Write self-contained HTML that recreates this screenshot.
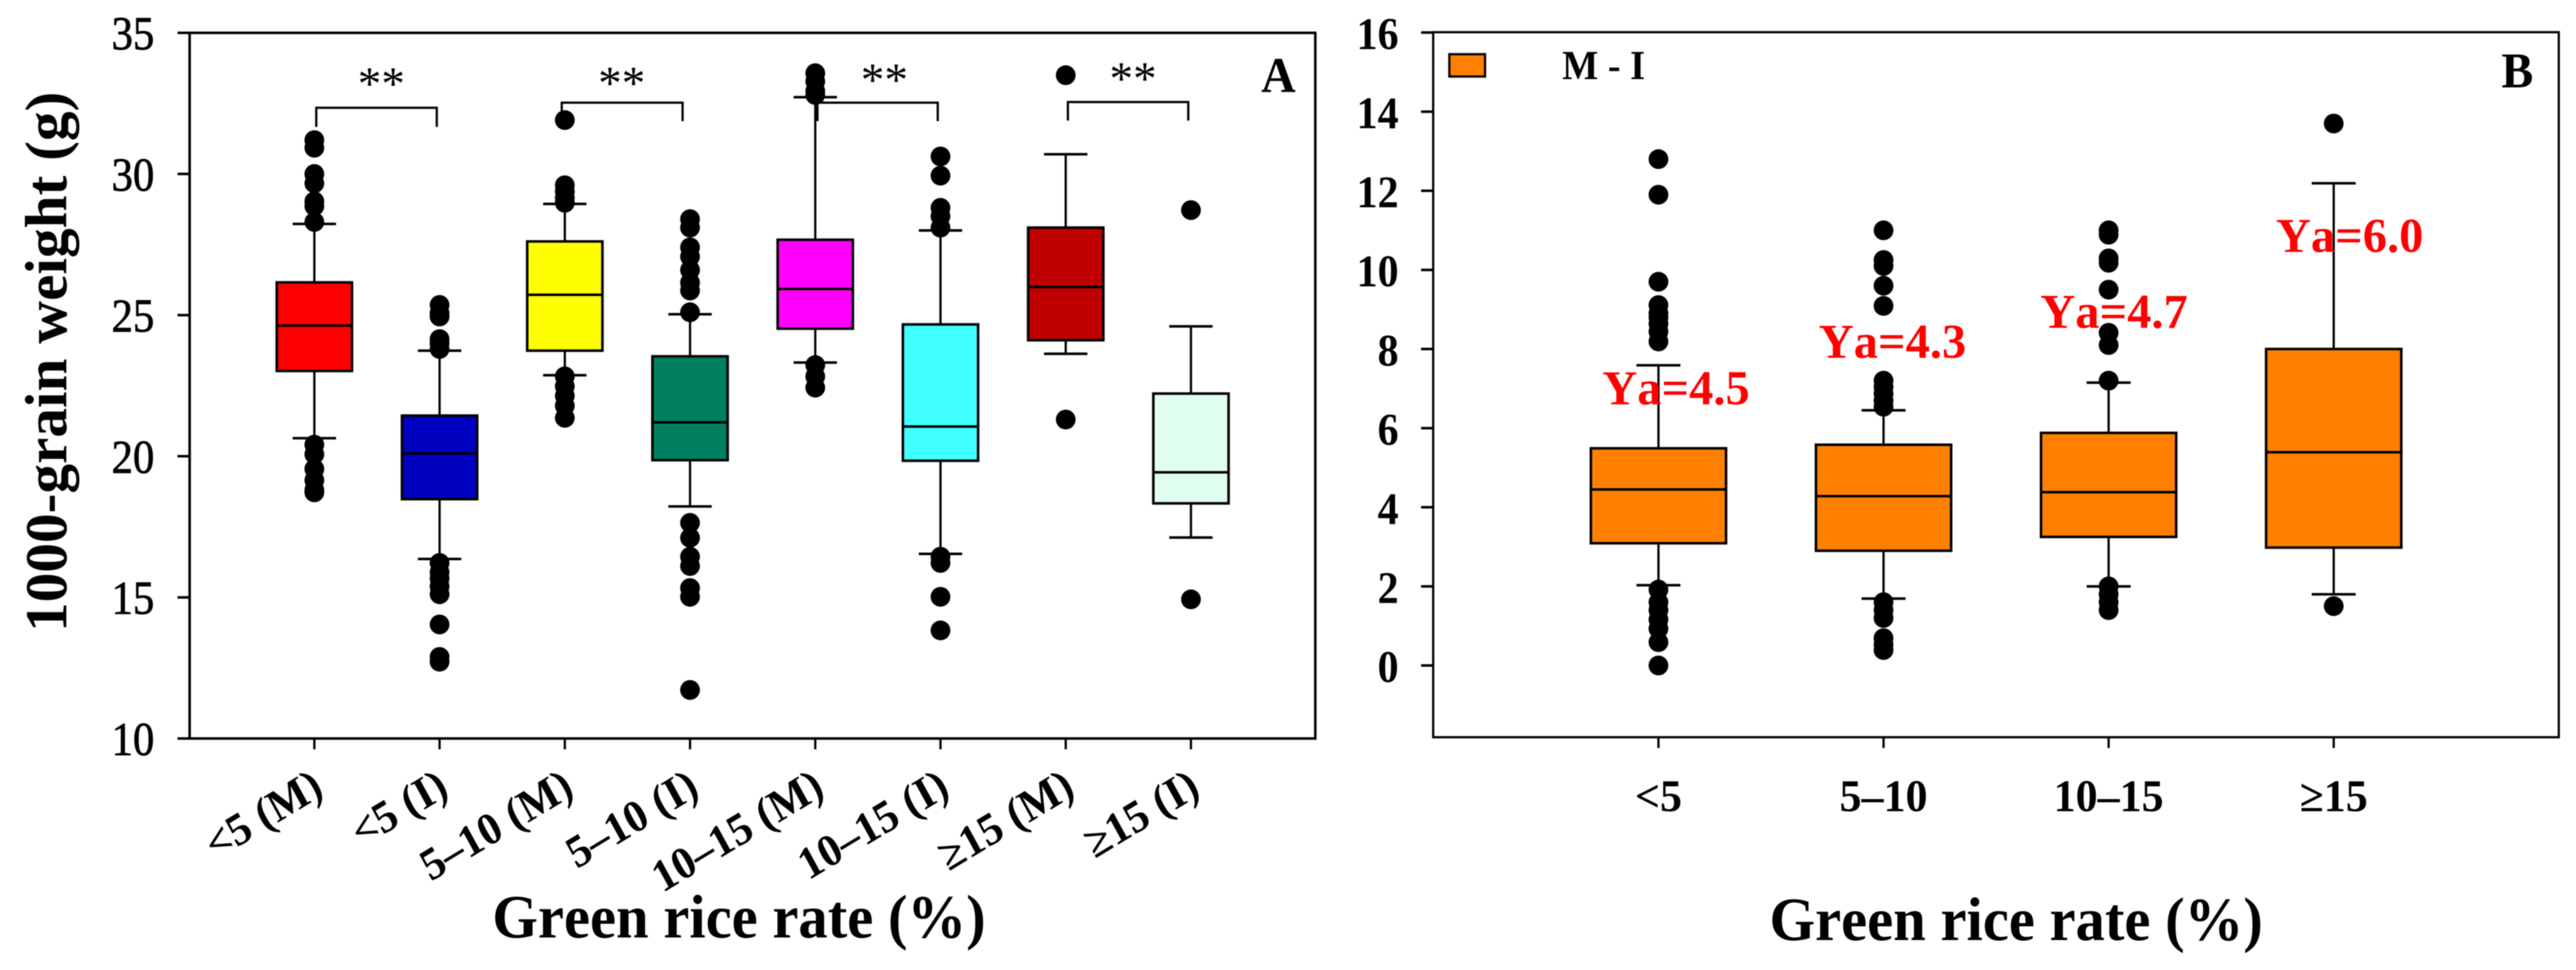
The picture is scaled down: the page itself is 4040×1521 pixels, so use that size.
<!DOCTYPE html>
<html lang="en">
<head>
<meta charset="utf-8">
<title>1000-grain weight and M - I difference by green rice rate</title>
<style>
html,body{margin:0;padding:0;background:#fff;}
svg{display:block;filter:blur(0.7px);}
text{font-family:"Liberation Serif","DejaVu Serif",serif;font-weight:bold;fill:#000;font-kerning:none;}
.ya{fill:#f00;font-size:76px;text-anchor:middle;}
.stars{font-size:74px;font-weight:normal;text-anchor:middle;}
.bracket{fill:none;stroke:#000;stroke-width:3.5;}
</style>
</head>
<body>
<svg id="fig" xmlns="http://www.w3.org/2000/svg" width="4040" height="1521" viewBox="0 0 4040 1521">
  <rect x="0" y="0" width="4040" height="1521" fill="#fff"/>
  <g id="panelA"></g>
  <g id="panelB"></g>

  <text transform="translate(104,991) rotate(-90)" font-size="93">1000-grain weight (g)</text>
  <text transform="translate(1159,1470) scale(1,1.05)" font-size="92" text-anchor="middle">Green rice rate (%)</text>
  <text transform="translate(2005,144) scale(1,1.05)" font-size="75" text-anchor="middle">A</text>

  <path class="bracket" d="M496 199V169H685V199"/>
  <path class="bracket" d="M881 190V161H1070.5V190"/>
  <path class="bracket" d="M1282 190V161H1470.7V190"/>
  <path class="bracket" d="M1674.8 189V160H1863.6V189"/>
  <text class="stars" x="598" y="156">**</text>
  <text class="stars" x="975" y="155">**</text>
  <text class="stars" x="1387" y="150">**</text>
  <text class="stars" x="1777" y="148">**</text>

  <text transform="translate(3162,1474) scale(1,1.05)" font-size="92" text-anchor="middle">Green rice rate (%)</text>
  <text transform="translate(3948,137) scale(1,1.05)" font-size="75" text-anchor="middle">B</text>
  <rect x="2273" y="85" width="56" height="35" fill="#ff8000" stroke="#000" stroke-width="3.5"/>
  <text transform="translate(2450,124) scale(1,1.07)" font-size="60">M - I</text>
  <text class="ya" x="2628.5" y="634">Ya=4.5</text>
  <text class="ya" x="2968" y="561">Ya=4.3</text>
  <text class="ya" x="3315.5" y="514">Ya=4.7</text>
  <text class="ya" x="3685" y="395">Ya=6.0</text>
</svg>
<script>
// ---------- Panel A data: 1000-grain weight (g) ----------
const categoriesA = ['<5 (M)', '<5 (I)', '5–10 (M)', '5–10 (I)', '10–15 (M)', '10–15 (I)', '≥15 (M)', '≥15 (I)'];
const fillsA = ['#ff0000', '#0000c0', '#ffff00', '#008060', '#ff00ff', '#40ffff', '#c00000', '#e0fff0'];
const yTicksA = [10, 15, 20, 25, 30, 35];
const q1A = [23.02, 18.48, 23.74, 19.86, 24.52, 19.84, 24.11, 18.33];
const medianA = [24.63, 20.1, 25.72, 21.2, 25.93, 21.05, 26.0, 19.43];
const q3A = [26.16, 21.44, 27.61, 23.54, 27.67, 24.67, 28.1, 22.22];
const whiskerLowA = [20.64, 16.36, 22.87, 18.22, 23.32, 16.54, 23.63, 17.12];
const whiskerHighA = [28.23, 23.74, 28.94, 25.03, 32.72, 28.0, 30.7, 24.6];
const outliersA = [
  [31.2, 30.93, 30.0, 29.67, 29.03, 28.86, 28.3, 20.41, 20.07, 19.55, 19.15, 18.8, 18.72],
  [25.36, 25.07, 24.95, 24.15, 24.0, 23.8, 16.22, 15.89, 15.67, 15.39, 15.11, 14.04, 12.89, 12.72],
  [31.91, 29.6, 29.38, 29.15, 28.98, 22.83, 22.48, 22.14, 21.79, 21.36],
  [28.4, 28.1, 27.4, 27.07, 26.6, 26.15, 25.87, 25.1, 17.64, 17.11, 16.44, 16.11, 15.33, 15.02, 11.72],
  [33.57, 33.28, 32.94, 32.8, 23.23, 22.83, 22.43],
  [30.62, 29.94, 28.8, 28.5, 28.1, 16.44, 16.22, 15.02, 13.83],
  [33.5, 21.3],
  [28.72, 14.93]
];

// ---------- Panel B data: M - I difference ----------
const categoriesB = ['<5', '5–10', '10–15', '≥15'];
const yTicksB = [0, 2, 4, 6, 8, 10, 12, 14, 16];
const q1B = [3.09, 2.9, 3.25, 2.98];
const medianB = [4.45, 4.28, 4.38, 5.39];
const q3B = [5.49, 5.58, 5.88, 8.0];
const whiskerLowB = [2.03, 1.69, 2.0, 1.8];
const whiskerHighB = [7.59, 6.45, 7.15, 12.19];
const outliersB = [
  [12.8, 11.9, 9.7, 9.11, 8.9, 8.8, 8.64, 8.44, 8.19, 1.92, 1.6, 1.4, 1.16, 0.93, 0.59, 0],
  [11.0, 10.25, 10.1, 9.6, 9.09, 7.2, 7.04, 6.87, 6.7, 6.54, 1.6, 1.4, 1.2, 0.69, 0.53, 0.39],
  [11.0, 10.89, 10.29, 10.18, 9.5, 8.41, 8.1, 7.2, 2.0, 1.8, 1.6, 1.4],
  [13.7, 1.5]
];

// ---------- Axis functions ----------
const yA = v => 1158 - (v - 10) * 44.26;
const xA = i => 493 + i * 196.4;
const yB = v => 1043.5 - v * 62.03;
const xB = i => 2601 + i * 353;

const SVG_NS = 'http://www.w3.org/2000/svg';
function makeEl(tag, attrs, parent) {
  const el = document.createElementNS(SVG_NS, tag);
  for (const k in attrs) el.setAttribute(k, attrs[k]);
  parent.appendChild(el);
  return el;
}
function slug(s) {
  return s.replace('<', 'lt').replace('≥', 'ge').replace('–', '-').replace(/[() ]+/g, '-').replace(/-$/, '').toLowerCase();
}

function drawFrame(parent, tag, left, top, right, bottom, strokeWidth) {
  const frame = makeEl('rect', {x: left, y: top, width: right - left, height: bottom - top, fill: 'none', stroke: '#000', 'stroke-width': strokeWidth}, parent);
  
  
}

function drawYAxis(parent, tag, ticks, y, left, fontSize, labelRight, weight, stretch, outline) {
  ticks.forEach(t => {
    const tick = makeEl('line', {x1: left - 19, x2: left, y1: y(t), y2: y(t), stroke: '#000', 'stroke-width': 4}, parent);
    
    
    const label = makeEl('text', {transform: 'translate(' + labelRight + ',' + (y(t) + 26) + ') scale(1,' + stretch + ')', 'font-size': fontSize, 'text-anchor': 'end', stroke: '#000', 'stroke-width': outline, style: 'font-weight:' + weight}, parent);
    label.textContent = t;
    
    
  });
}

function drawXTick(parent, tag, name, x, bottom) {
  const tick = makeEl('line', {x1: x, x2: x, y1: bottom, y2: bottom + 17, stroke: '#000', 'stroke-width': 3.5}, parent);
  
  
}

function drawBox(parent, tag, name, x, y, boxW, capW, fill, lo, q1, med, q3, hi, outliers) {
  const g = makeEl('g', {}, parent);
  
  

  const whisker = makeEl('line', {x1: x, x2: x, y1: y(hi), y2: y(lo), stroke: '#000', 'stroke-width': 3.5}, g);
  
  

  const capHigh = makeEl('line', {x1: x - capW / 2, x2: x + capW / 2, y1: y(hi), y2: y(hi), stroke: '#000', 'stroke-width': 4}, g);
  
  

  const capLow = makeEl('line', {x1: x - capW / 2, x2: x + capW / 2, y1: y(lo), y2: y(lo), stroke: '#000', 'stroke-width': 4}, g);
  
  

  const box = makeEl('rect', {x: x - boxW / 2, y: y(q3), width: boxW, height: y(q1) - y(q3), fill: fill, stroke: '#000', 'stroke-width': 4}, g);
  
  

  const median = makeEl('line', {x1: x - boxW / 2, x2: x + boxW / 2, y1: y(med), y2: y(med), stroke: '#000', 'stroke-width': 4}, g);
  
  

  outliers.forEach(v => {
    const dot = makeEl('circle', {cx: x, cy: y(v), r: 15.5, fill: '#000'}, g);
    
    
  });
}

// ---------- Panel A ----------
const panelA = document.getElementById('panelA');
drawFrame(panelA, 'a', 297.4, 51.5, 2062.8, 1158, 4);
drawYAxis(panelA, 'a', yTicksA, yA, 297.4, 67, 242, 'normal', 1.1, 1);
categoriesA.forEach((name, i) => {
  drawXTick(panelA, 'a', name, xA(i), 1158);
  const label = makeEl('text', {transform: 'translate(' + (xA(i) + 17) + ',1245) scale(1,1.05) rotate(-30)', 'font-size': 68, 'text-anchor': 'end'}, panelA);
  label.textContent = name;
  
  
  drawBox(panelA, 'a', name, xA(i), yA, 118, 68, fillsA[i], whiskerLowA[i], q1A[i], medianA[i], q3A[i], whiskerHighA[i], outliersA[i]);
});

// ---------- Panel B ----------
const panelB = document.getElementById('panelB');
drawFrame(panelB, 'b', 2247.7, 50.5, 4013, 1156, 3.5);
drawYAxis(panelB, 'b', yTicksB, yB, 2247.7, 66, 2193.5, 'bold', 1.08, 0);
categoriesB.forEach((name, i) => {
  drawXTick(panelB, 'b', name, xB(i), 1156);
  const label = makeEl('text', {transform: 'translate(' + xB(i) + ',1272) scale(1,1.03)', 'font-size': 69, 'text-anchor': 'middle'}, panelB);
  label.textContent = name;
  
  
  drawBox(panelB, 'b', name, xB(i), yB, 212, 69, '#ff8000', whiskerLowB[i], q1B[i], medianB[i], q3B[i], whiskerHighB[i], outliersB[i]);
});
</script>
</body>
</html>
